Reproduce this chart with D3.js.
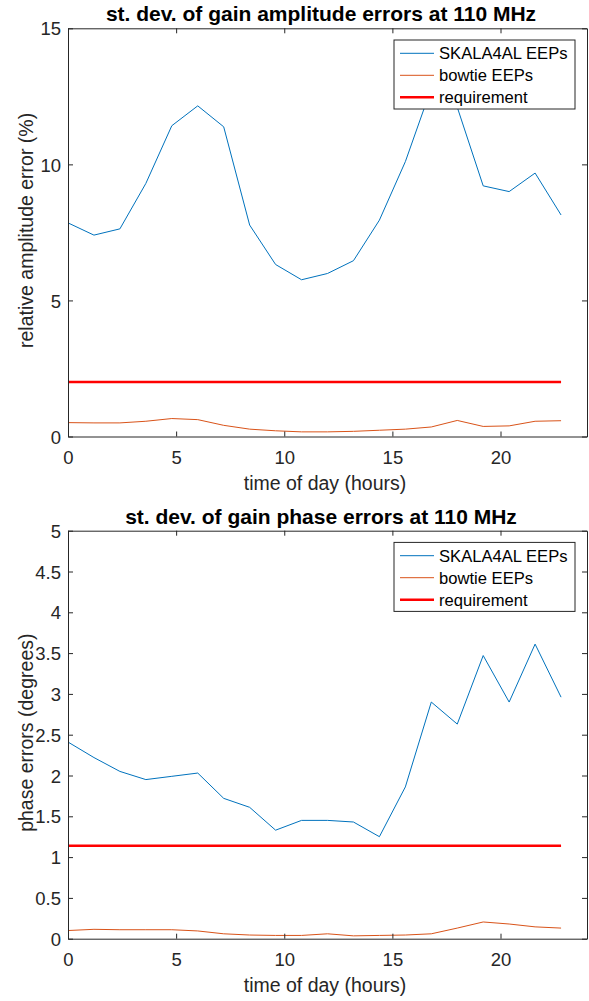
<!DOCTYPE html>
<html>
<head>
<meta charset="utf-8">
<script src="https://cdn.jsdelivr.net/npm/d3@7"></script>
<style>
body { margin: 0; background: #fff; }
svg { display: block; font-family: "Liberation Sans", Arial, Helvetica, sans-serif; }
</style>
</head>
<body>
<svg id="chart" width="589" height="1001"></svg>
<script>
// ---- data ----
const hours = [0, 1.2, 2.4, 3.6, 4.8, 6.0, 7.2, 8.4, 9.6, 10.8, 12.0, 13.2, 14.4, 15.6, 16.8, 18.0, 19.2, 20.4, 21.6, 22.8];

const ampSkala = [7.85, 7.40, 7.63, 9.30, 11.42, 12.15, 11.38, 7.77, 6.32, 5.76, 5.99, 6.46, 7.95, 10.1, 12.8, 12.1, 9.21, 9.00, 9.68, 8.14];
const ampBowtie = [0.51, 0.50, 0.50, 0.56, 0.66, 0.62, 0.41, 0.27, 0.21, 0.17, 0.17, 0.19, 0.23, 0.27, 0.35, 0.59, 0.37, 0.39, 0.56, 0.58];
const ampRequirement = 2.0;

const phaseSkala = [2.41, 2.22, 2.05, 1.95, 1.99, 2.03, 1.72, 1.61, 1.33, 1.45, 1.45, 1.43, 1.25, 1.86, 2.90, 2.63, 3.47, 2.90, 3.61, 2.96];
const phaseBowtie = [0.10, 0.115, 0.11, 0.11, 0.11, 0.095, 0.06, 0.045, 0.04, 0.04, 0.06, 0.035, 0.04, 0.045, 0.06, 0.13, 0.205, 0.18, 0.145, 0.13];
const phaseRequirement = 1.14;

const xTicks = [0, 5, 10, 15, 20];
const ampTicks = [0, 5, 10, 15];
const phaseTicks = [0, 0.5, 1, 1.5, 2, 2.5, 3, 3.5, 4, 4.5, 5];

const seriesNames = ["SKALA4AL EEPs", "bowtie EEPs", "requirement"];
const seriesColors = ["#0072BD", "#D95319", "#FF0000"];
const seriesWidths = [1, 1, 2.6];

const panels = [
  { title: "st. dev. of gain amplitude errors at 110 MHz", ylabel: "relative amplitude error (%)",
    top: 28.3, bottom: 436.5, ymax: 15, yticks: ampTicks, skala: ampSkala, bowtie: ampBowtie, req: ampRequirement },
  { title: "st. dev. of gain phase errors at 110 MHz", ylabel: "phase errors (degrees)",
    top: 530.7, bottom: 938.7, ymax: 5, yticks: phaseTicks, skala: phaseSkala, bowtie: phaseBowtie, req: phaseRequirement }
];

const svg = d3.select("#chart");
const left = 68, right = 587;
const axisColor = "#262626";

panels.forEach(p => {
  const x = d3.scaleLinear().domain([0, 24]).range([left, right]);
  const y = d3.scaleLinear().domain([0, p.ymax]).range([p.bottom, p.top]);
  const g = svg.append("g");

  // data lines
  const line = d3.line().x((d, i) => x(hours[i])).y(d => y(d));
  g.append("path").datum(p.skala).attr("d", line)
    .attr("fill", "none").attr("stroke", seriesColors[0]).attr("stroke-width", seriesWidths[0]);
  g.append("path").datum(p.bowtie).attr("d", line)
    .attr("fill", "none").attr("stroke", seriesColors[1]).attr("stroke-width", seriesWidths[1]);
  g.append("path").datum(hours.map(() => p.req)).attr("d", line)
    .attr("fill", "none").attr("stroke", seriesColors[2]).attr("stroke-width", seriesWidths[2]);

  // axes (ticks inward)
  const tickLen = 5;
  const axB = g.append("g").attr("transform", `translate(0,${p.bottom})`)
    .call(d3.axisBottom(x).tickValues(xTicks).tickSizeInner(-tickLen).tickSizeOuter(0).tickFormat(d3.format("d")));
  const axT = g.append("g").attr("transform", `translate(0,${p.top})`)
    .call(d3.axisTop(x).tickValues(xTicks).tickSizeInner(-tickLen).tickSizeOuter(0).tickFormat(""));
  const axL = g.append("g").attr("transform", `translate(${left},0)`)
    .call(d3.axisLeft(y).tickValues(p.yticks).tickSizeInner(-tickLen).tickSizeOuter(0).tickFormat(d => String(d)));
  const axR = g.append("g").attr("transform", `translate(${right},0)`)
    .call(d3.axisRight(y).tickValues(p.yticks).tickSizeInner(-tickLen).tickSizeOuter(0).tickFormat(""));
  [axB, axT, axL, axR].forEach(a => {
    a.select(".domain").attr("stroke", axisColor).attr("stroke-width", 1);
    a.selectAll(".tick line").attr("stroke", axisColor);
    a.selectAll(".tick text").attr("fill", axisColor).style("font-size", "18.5px")
      .style("font-family", "'Liberation Sans', Arial, sans-serif");
  });
  axB.selectAll(".tick text").attr("y", 27).attr("dy", 0);
  axL.selectAll(".tick text").attr("x", -7).attr("dy", "0.36em");

  // title
  g.append("text").attr("x", 321).attr("y", p.top - 7)
    .attr("text-anchor", "middle").style("font-size", "21px").style("font-weight", "bold")
    .attr("fill", "#000").text(p.title);
  // x label
  g.append("text").attr("x", 325).attr("y", p.bottom + 53)
    .attr("text-anchor", "middle").style("font-size", "19.5px").attr("fill", axisColor)
    .text("time of day (hours)");
  // y label
  g.append("text").attr("transform", `translate(33,${(p.top + p.bottom) / 2 - 2}) rotate(-90)`)
    .attr("text-anchor", "middle").style("font-size", "19.5px").attr("fill", axisColor)
    .text(p.ylabel);

  // legend
  const lx = 394, lw = 181, ly = p.top + 11.7, lh = 69;
  const lg = g.append("g");
  lg.append("rect").attr("x", lx).attr("y", ly).attr("width", lw).attr("height", lh)
    .attr("fill", "#fff").attr("stroke", axisColor).attr("stroke-width", 1);
  seriesNames.forEach((name, i) => {
    const cy = ly + 13.3 + i * 22;
    lg.append("line").attr("x1", lx + 6).attr("x2", lx + 40).attr("y1", cy).attr("y2", cy)
      .attr("stroke", seriesColors[i]).attr("stroke-width", seriesWidths[i]);
    lg.append("text").attr("x", lx + 45).attr("y", cy).attr("dy", "0.35em")
      .style("font-size", "16.6px").attr("fill", "#000").text(name);
  });
});
</script>
</body>
</html>
